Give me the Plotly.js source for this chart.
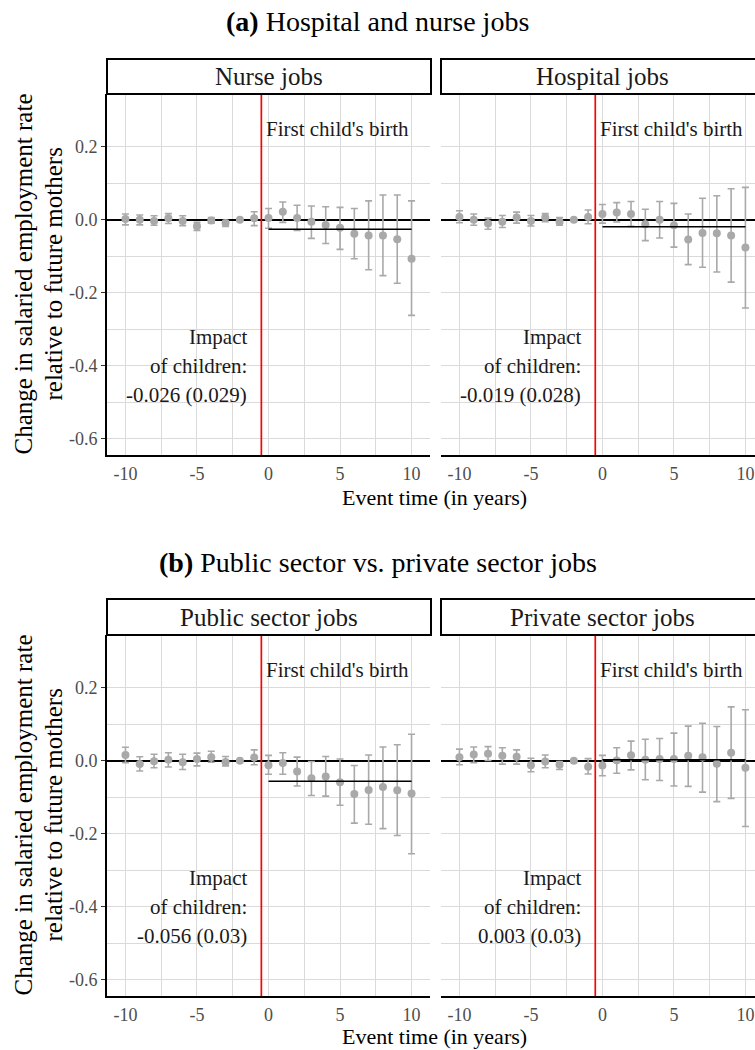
<!DOCTYPE html>
<html><head><meta charset="utf-8">
<script src="https://cdn.plot.ly/plotly-3.0.1.min.js"></script>
<style>html,body{margin:0;padding:0;overflow:hidden;background:#fff}</style>
</head><body><div id="chart" style="width:755px;height:1050px"></div>
<script>
// ---------------- data ----------------
const eventTime = [-10,-9,-8,-7,-6,-5,-4,-3,-2,-1,0,1,2,3,4,5,6,7,8,9,10];

const nurseEst = [0.002,0.000,-0.003,0.004,-0.003,-0.018,-0.002,-0.009,0,0.004,0.005,0.022,0.005,-0.005,-0.014,-0.022,-0.038,-0.043,-0.043,-0.053,-0.107];
const nurseLo  = [-0.014,-0.014,-0.015,-0.010,-0.016,-0.029,-0.009,-0.018,0,-0.016,-0.023,-0.007,-0.029,-0.051,-0.065,-0.081,-0.107,-0.137,-0.153,-0.174,-0.262];
const nurseHi  = [0.016,0.013,0.011,0.017,0.011,-0.007,0.006,-0.002,0,0.022,0.031,0.049,0.040,0.038,0.036,0.034,0.031,0.052,0.068,0.068,0.052];

const hospEst = [0.008,0.000,-0.010,-0.005,0.006,-0.003,0.006,-0.005,0,0.008,0.016,0.020,0.016,-0.012,0.000,-0.015,-0.054,-0.036,-0.037,-0.043,-0.076];
const hospLo  = [-0.008,-0.015,-0.026,-0.021,-0.009,-0.017,-0.005,-0.015,0,-0.011,-0.009,-0.006,-0.018,-0.057,-0.050,-0.075,-0.123,-0.130,-0.143,-0.171,-0.242];
const hospHi  = [0.025,0.016,0.005,0.012,0.021,0.012,0.017,0.006,0,0.027,0.042,0.047,0.050,0.029,0.050,0.045,0.016,0.059,0.066,0.085,0.089];

const publicEst = [0.016,-0.009,-0.001,0.003,-0.004,0.005,0.010,-0.003,0,0.009,-0.012,-0.006,-0.029,-0.048,-0.043,-0.059,-0.091,-0.080,-0.072,-0.081,-0.090];
const publicLo  = [-0.005,-0.028,-0.019,-0.017,-0.024,-0.014,-0.004,-0.014,0,-0.011,-0.037,-0.037,-0.069,-0.095,-0.097,-0.122,-0.171,-0.174,-0.186,-0.205,-0.255];
const publicHi  = [0.037,0.011,0.018,0.022,0.018,0.021,0.026,0.012,0,0.030,0.015,0.022,0.010,-0.002,0.012,0.005,-0.013,0.016,0.038,0.044,0.073];

const privateEst = [0.010,0.017,0.019,0.014,0.011,-0.012,-0.002,-0.011,0,-0.016,-0.013,0.001,0.015,0.003,0.005,0.005,0.014,0.010,-0.008,0.022,-0.019];
const privateLo  = [-0.011,-0.005,0.001,-0.009,-0.009,-0.030,-0.019,-0.024,0,-0.036,-0.041,-0.034,-0.025,-0.052,-0.054,-0.069,-0.070,-0.086,-0.112,-0.103,-0.180];
const privateHi  = [0.032,0.038,0.039,0.036,0.030,0.007,0.016,-0.002,0,0.006,0.015,0.036,0.054,0.059,0.061,0.076,0.095,0.103,0.094,0.148,0.140];

const panelTitles = ["Nurse jobs","Hospital jobs","Public sector jobs","Private sector jobs"];
const impactEst   = [-0.026,-0.019,-0.056,0.003];
const impactLabel = ["-0.026 (0.029)","-0.019 (0.028)","-0.056 (0.03)","0.003 (0.03)"];
const birthTime = -0.5;

const xTickVals = [-10,-5,0,5,10];
const xTickText = ["-10","-5","0","5","10"];
const yTickVals = [-0.6,-0.4,-0.2,0.0,0.2];
const yTickText = ["-0.6","-0.4","-0.2","0.0","0.2"];

const figTitles = ["<b>(a)</b> Hospital and nurse jobs","<b>(b)</b> Public sector vs. private sector jobs"];
const xTitle = "Event time (in years)";
const yTitle1 = "Change in salaried employment rate";
const yTitle2 = "relative to future mothers";

// ---------------- layout helpers ----------------
const W = 755, H = 1050;
const FONT = "'Liberation Serif', 'Times New Roman', serif";
const px = v => v / W;
const py = v => 1 - v / H;
const series = [[nurseEst,nurseLo,nurseHi],[hospEst,hospLo,hospHi],[publicEst,publicLo,publicHi],[privateEst,privateLo,privateHi]];

const panels = [
  {xd:[107,430], yd:[94,455], xr:[-11.29,11.29], left:true,  strip:[107,431], stripY:[59,94]},
  {xd:[441,755], yd:[94,455], xr:[-11.29,10.67], left:false, strip:[441,800], stripY:[59,94], stripC:602.5},
  {xd:[107,430], yd:[635,996], xr:[-11.29,11.29], left:true,  strip:[107,431], stripY:[599,635]},
  {xd:[441,755], yd:[635,996], xr:[-11.29,10.67], left:false, strip:[441,800], stripY:[599,635], stripC:602.5}
];
const mids = a => a.slice(0,-1).map((v,i)=>(v+a[i+1])/2);
const yr = [-0.645, 0.345];
const grid = '#dadada';
const pointCol = '#a9a9a9';

const traces = [], shapes = [], annotations = [];
const layout = {
  width: W, height: H, margin:{l:0,r:0,t:0,b:0},
  paper_bgcolor:'#fff', plot_bgcolor:'#fff', showlegend:false,
  font:{family:FONT, color:'#1a1a1a'}
};

const post = eventTime.filter(t => t >= 0);

panels.forEach((p, i) => {
  const n = i + 1;
  const xk = n === 1 ? 'xaxis' : 'xaxis' + n;
  const yk = n === 1 ? 'yaxis' : 'yaxis' + n;
  const xr = n === 1 ? 'x' : 'x' + n;
  const yrf = n === 1 ? 'y' : 'y' + n;

  layout[xk] = {
    domain:[px(p.xd[0]), px(p.xd[1])], range:p.xr, anchor:yrf,
    tickmode:'array', tickvals:xTickVals, ticktext:xTickText,
    showgrid:true, gridcolor:grid, gridwidth:1,
    minor:{tickmode:'array', tickvals:mids(xTickVals), showgrid:true, gridcolor:grid, gridwidth:1, ticks:''},
    showline:true, linecolor:'#000', linewidth:1.8,
    ticks:'', ticklabelstandoff:2,
    tickfont:{family:FONT, size:18, color:'#4d4d4d'},
    zeroline:false, fixedrange:true
  };
  layout[yk] = {
    domain:[py(p.yd[1]), py(p.yd[0])], range:yr, anchor:xr,
    tickmode:'array', tickvals:yTickVals, ticktext:yTickText,
    showgrid:true, gridcolor:grid, gridwidth:1,
    minor:{tickmode:'array', tickvals:mids(yTickVals), showgrid:true, gridcolor:grid, gridwidth:1, ticks:''},
    showline:p.left, linecolor:'#000', linewidth:1.8,
    ticks:p.left ? 'outside' : '', ticklen:4, tickcolor:'#333', tickwidth:1,
    showticklabels:p.left,
    tickfont:{family:FONT, size:18, color:'#4d4d4d'},
    zeroline:true, zerolinecolor:'#000', zerolinewidth:1.6, fixedrange:true
  };

  const [est, lo, hi] = series[i];
  traces.push({
    type:'scatter', mode:'markers', x:eventTime, y:est, xaxis:xr, yaxis:yrf,
    marker:{size:8, color:pointCol},
    error_y:{type:'data', symmetric:false,
      array:hi.map((h,k)=>h-est[k]), arrayminus:est.map((e,k)=>e-lo[k]),
      color:pointCol, thickness:1.6, width:3.5},
    hoverinfo:'skip'
  });
  traces.push({
    type:'scatter', mode:'lines', x:[Math.min(...post), Math.max(...post)],
    y:[impactEst[i], impactEst[i]], xaxis:xr, yaxis:yrf,
    line:{color:'#000', width:1.6}, hoverinfo:'skip'
  });

  shapes.push({type:'line', xref:xr, yref:yrf + ' domain', x0:birthTime, x1:birthTime, y0:0, y1:1,
    line:{color:'#ff0000', width:1.7}});
  shapes.push({type:'rect', xref:'paper', yref:'paper',
    x0:px(p.strip[0]), x1:px(p.strip[1]), y0:py(p.stripY[1]), y1:py(p.stripY[0]),
    fillcolor:'#fff', line:{color:'#000', width:2}});

  annotations.push({xref:'paper', yref:'paper', x:px(p.stripC || (p.strip[0]+p.strip[1])/2),
    y:py((p.stripY[0]+p.stripY[1])/2), text:panelTitles[i], showarrow:false,
    xanchor:'center', yanchor:'middle', font:{family:FONT, size:25, color:'#1a1a1a'}});

  annotations.push({xref:xr, yref:yrf, x:birthTime, y:0.25, xshift:3, text:"First child's birth",
    showarrow:false, xanchor:'left', yanchor:'middle', font:{family:FONT, size:21, color:'#1a1a1a'}});

  ["Impact","of children:", impactLabel[i]].forEach((t, k) => {
    annotations.push({xref:xr, yref:yrf, x:birthTime, y:-0.4, xshift:-12, yshift:29 - 29*k, text:t,
      showarrow:false, xanchor:'right', yanchor:'middle', font:{family:FONT, size:21, color:'#1a1a1a'}});
  });
});

// figure titles, axis titles
[22, 562].forEach((yy, k) => {
  annotations.push({xref:'paper', yref:'paper', x:px(377.5), y:py(yy), text:figTitles[k], showarrow:false,
    xanchor:'center', yanchor:'middle', font:{family:FONT, size:28, color:'#000'}});
});
[497, 1036].forEach(yy => {
  annotations.push({xref:'paper', yref:'paper', x:px(435), y:py(yy), text:xTitle, showarrow:false,
    xanchor:'center', yanchor:'middle', font:{family:FONT, size:22, color:'#000'}});
});
[274.5, 815.5].forEach(yy => {
  annotations.push({xref:'paper', yref:'paper', x:px(23), y:py(yy), text:yTitle1, showarrow:false, textangle:-90,
    xanchor:'center', yanchor:'middle', font:{family:FONT, size:25, color:'#000'}});
  annotations.push({xref:'paper', yref:'paper', x:px(53), y:py(yy), text:yTitle2, showarrow:false, textangle:-90,
    xanchor:'center', yanchor:'middle', font:{family:FONT, size:25, color:'#000'}});
});

layout.shapes = shapes;
layout.annotations = annotations;

Plotly.newPlot('chart', traces, layout, {staticPlot:true, displayModeBar:false});
</script></body></html>
